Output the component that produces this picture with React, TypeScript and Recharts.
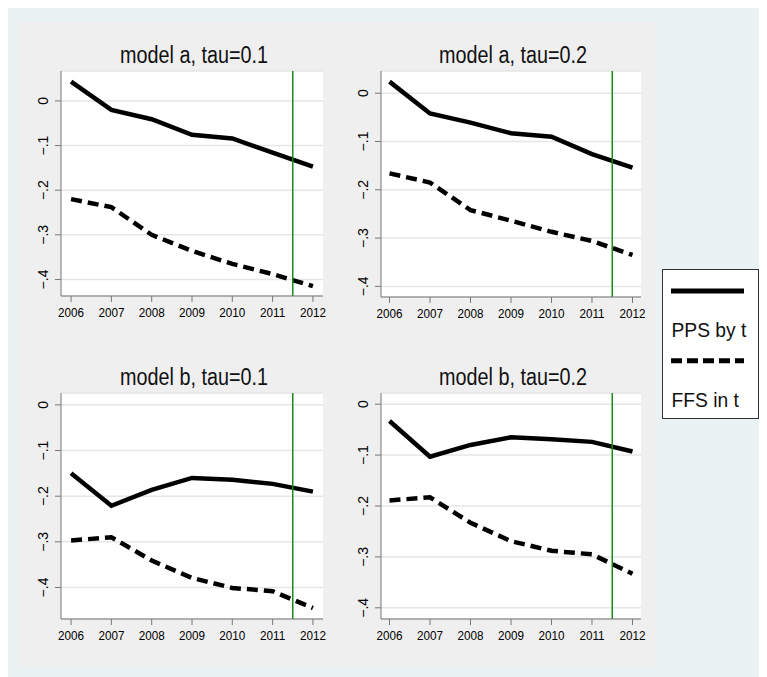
import React from "react";
import { LineChart, Line, XAxis, YAxis, CartesianGrid, ReferenceLine } from "recharts";

const years = [2006, 2007, 2008, 2009, 2010, 2011, 2012];

const ppsA1 = [0.043, -0.02, -0.041, -0.076, -0.084, -0.116, -0.147];
const ffsA1 = [-0.22, -0.238, -0.3, -0.336, -0.365, -0.388, -0.415];
const ppsA2 = [0.024, -0.042, -0.061, -0.083, -0.09, -0.126, -0.154];
const ffsA2 = [-0.166, -0.185, -0.242, -0.264, -0.287, -0.306, -0.335];
const ppsB1 = [-0.15, -0.221, -0.186, -0.16, -0.164, -0.173, -0.19];
const ffsB1 = [-0.297, -0.29, -0.341, -0.379, -0.401, -0.408, -0.445];
const ppsB2 = [-0.033, -0.103, -0.08, -0.065, -0.069, -0.074, -0.093];
const ffsB2 = [-0.189, -0.183, -0.233, -0.269, -0.288, -0.295, -0.333];

const yTicks = [0, -0.1, -0.2, -0.3, -0.4];
const yTickLabels = ["0", "\u2212.1", "\u2212.2", "\u2212.3", "\u2212.4"];
const cutoffYear = 2011.5;

const FONT = "'Liberation Sans', Arial, sans-serif";
const AXIS = "#777";

type PanelDef = {
  title: string;
  pps: number[];
  ffs: number[];
  rect: { x: number; y: number; w: number; h: number };
  yDomain: [number, number];
  xDomain: [number, number];
  titleY: number;
};

const panels: PanelDef[] = [
  {
    title: "model a, tau=0.1",
    pps: ppsA1,
    ffs: ffsA1,
    rect: { x: 61, y: 71, w: 262, h: 225 },
    yDomain: [-0.437, 0.067],
    xDomain: [2005.75, 2012.25],
    titleY: 63,
  },
  {
    title: "model a, tau=0.2",
    pps: ppsA2,
    ffs: ffsA2,
    rect: { x: 381, y: 71, w: 260, h: 226 },
    yDomain: [-0.422, 0.046],
    xDomain: [2005.79, 2012.21],
    titleY: 63,
  },
  {
    title: "model b, tau=0.1",
    pps: ppsB1,
    ffs: ffsB1,
    rect: { x: 61, y: 393, w: 262, h: 226 },
    yDomain: [-0.469, 0.026],
    xDomain: [2005.75, 2012.25],
    titleY: 385,
  },
  {
    title: "model b, tau=0.2",
    pps: ppsB2,
    ffs: ffsB2,
    rect: { x: 381, y: 393, w: 260, h: 226 },
    yDomain: [-0.422, 0.022],
    xDomain: [2005.79, 2012.21],
    titleY: 385,
  },
];

// page offset from body margin
const OFF = 8;

const XTick = (props: any) => {
  const { x, y, payload } = props;
  return (
    <text
      transform={`translate(${x},${y + 13}) scale(0.9,1)`}
      textAnchor="middle"
      fontSize={13}
      fontFamily={FONT}
      fill="#000"
    >
      {payload.value}
    </text>
  );
};

const YTick = (props: any) => {
  const { x, y, payload } = props;
  const i = yTicks.findIndex((t) => Math.abs(t - payload.value) < 1e-9);
  return (
    <text
      transform={`translate(${x - 5},${y}) rotate(-90)`}
      textAnchor="middle"
      fontSize={14}
      fontFamily={FONT}
      fill="#000"
    >
      {i >= 0 ? yTickLabels[i] : payload.value}
    </text>
  );
};

function Panel({ p }: { p: PanelDef }) {
  const data = years.map((year, i) => ({ year, pps: p.pps[i], ffs: p.ffs[i] }));
  const left = p.rect.x - OFF - 45;
  const top = p.rect.y - OFF - 50;
  return (
    <div style={{ position: "absolute", left, top }}>
      <LineChart
        width={p.rect.w + 55}
        height={p.rect.h + 80}
        data={data}
        margin={{ top: 50, right: 10, bottom: 0, left: 0 }}
      >
        <CartesianGrid vertical={false} stroke="#e6e6e6" strokeWidth={1.5} fill="#fff" />
        <XAxis
          type="number"
          dataKey="year"
          domain={p.xDomain}
          ticks={years}
          interval={0}
          allowDataOverflow
          height={30}
          tickSize={6}
          axisLine={{ stroke: AXIS }}
          tickLine={{ stroke: AXIS }}
          tick={<XTick />}
        />
        <YAxis
          type="number"
          domain={p.yDomain}
          ticks={yTicks}
          interval={0}
          allowDataOverflow
          width={45}
          tickSize={6}
          axisLine={{ stroke: AXIS }}
          tickLine={{ stroke: AXIS }}
          tick={<YTick />}
        />
        <Line
          type="linear"
          dataKey="pps"
          stroke="#000"
          strokeWidth={4.5}
          dot={false}
          isAnimationActive={false}
        />
        <Line
          type="linear"
          dataKey="ffs"
          stroke="#000"
          strokeWidth={4.5}
          strokeDasharray="11 6"
          dot={false}
          isAnimationActive={false}
        />
        <ReferenceLine x={cutoffYear} stroke="#1a8a1a" strokeWidth={1.5} />
      </LineChart>
    </div>
  );
}

export default function App() {
  return (
    <div
      style={{
        position: "relative",
        width: 759,
        height: 669,
        background: "#eaf2f3",
        fontFamily: FONT,
      }}
    >
      <div
        style={{
          position: "absolute",
          left: 10,
          top: 14,
          width: 638,
          height: 645,
          background: "#efefef",
        }}
      />
      {panels.map((p) => (
        <Panel key={p.title} p={p} />
      ))}
      <svg
        width={759}
        height={669}
        style={{ position: "absolute", left: 0, top: 0, pointerEvents: "none" }}
      >
        {panels.map((p) => (
          <text
            key={p.title}
            transform={`translate(${p.rect.x - OFF + p.rect.w / 2 + 2},${p.titleY - OFF}) scale(0.86,1)`}
            textAnchor="middle"
            fontSize={23}
            fontFamily={FONT}
            fill="#111"
          >
            {p.title}
          </text>
        ))}
        <rect x={654.5} y={261.5} width={96} height={149} fill="#fff" stroke="#333" strokeWidth={1} />
        <line x1={663} x2={736} y1={283} y2={283} stroke="#000" strokeWidth={5} />
        <text
          transform="translate(663.5,328.7) scale(0.94,1)"
          fontSize={20.5}
          fontFamily={FONT}
          fill="#111"
        >
          PPS by t
        </text>
        <line x1={663} x2={736} y1={352.7} y2={352.7} stroke="#000" strokeWidth={5} strokeDasharray="11 5" />
        <text
          transform="translate(663.5,399.3) scale(0.94,1)"
          fontSize={20.5}
          fontFamily={FONT}
          fill="#111"
        >
          FFS in t
        </text>
      </svg>
    </div>
  );
}
